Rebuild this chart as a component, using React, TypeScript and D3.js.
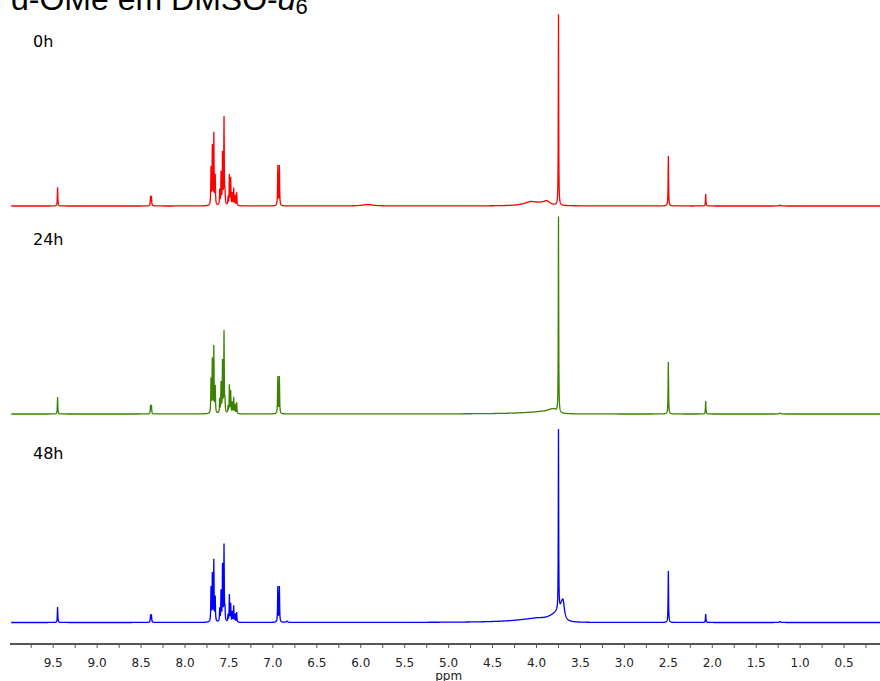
import React from 'react';
import * as d3 from 'd3';

// ---------- data ----------
// peak lists: [ppm, height, half-width toward higher ppm, half-width toward lower ppm]
type Peak = [number, number, number, number];

const traceNames = ['0h', '24h', '48h'];
const traceColors = ['#ff0000', '#3a8200', '#0000ff'];

const peaks0h: Peak[] = [
  [9.45, 18.7, 0.003, 0.003],
  [8.392, 9.5, 0.003, 0.003],
  [8.382, 9.5, 0.003, 0.003],
  [7.704, 37, 0.003, 0.003],
  [7.689, 58, 0.003, 0.003],
  [7.672, 71, 0.003, 0.003],
  [7.656, 29, 0.003, 0.003],
  [7.605, 15, 0.003, 0.003],
  [7.590, 32, 0.003, 0.003],
  [7.573, 51, 0.003, 0.003],
  [7.556, 87, 0.003, 0.003],
  [7.545, 12, 0.003, 0.003],
  [7.510, 8, 0.003, 0.003],
  [7.495, 30, 0.003, 0.003],
  [7.480, 27, 0.003, 0.003],
  [7.462, 12, 0.003, 0.003],
  [7.446, 17, 0.003, 0.003],
  [7.430, 10, 0.003, 0.003],
  [7.412, 13, 0.003, 0.003],
  [6.944, 40, 0.003, 0.003],
  [6.926, 40, 0.003, 0.003],
  [5.92, 1.5, 0.07, 0.07],
  [4.07, 3.0, 0.08, 0.08],
  [3.98, 1.5, 0.15, 0.1],
  [3.88, 4.0, 0.06, 0.04],
  [3.75, 191, 0.0025, 0.0025],
  [2.50, 50, 0.003, 0.003],
  [2.075, 12, 0.003, 0.003],
  [1.23, 0.8, 0.01, 0.01],
];

const peaks24h: Peak[] = [
  [9.45, 17, 0.003, 0.003],
  [8.392, 8.5, 0.003, 0.003],
  [8.382, 8.5, 0.003, 0.003],
  [7.704, 34, 0.003, 0.003],
  [7.689, 53, 0.003, 0.003],
  [7.672, 66, 0.003, 0.003],
  [7.656, 26, 0.003, 0.003],
  [7.605, 14, 0.003, 0.003],
  [7.590, 30, 0.003, 0.003],
  [7.573, 51, 0.003, 0.003],
  [7.556, 81, 0.003, 0.003],
  [7.545, 11, 0.003, 0.003],
  [7.510, 7, 0.003, 0.003],
  [7.495, 28, 0.003, 0.003],
  [7.480, 22, 0.003, 0.003],
  [7.462, 11, 0.003, 0.003],
  [7.446, 16, 0.003, 0.003],
  [7.430, 9, 0.003, 0.003],
  [7.412, 11, 0.003, 0.003],
  [6.944, 37, 0.003, 0.003],
  [6.926, 37, 0.003, 0.003],
  [3.85, 2.5, 0.3, 0.06],
  [3.80, 3.5, 0.06, 0.03],
  [3.75, 196, 0.0025, 0.0025],
  [2.50, 52, 0.003, 0.003],
  [2.075, 13, 0.003, 0.003],
  [1.23, 0.8, 0.01, 0.01],
];

const peaks48h: Peak[] = [
  [9.45, 15.5, 0.003, 0.003],
  [8.392, 7.5, 0.003, 0.003],
  [8.382, 7.5, 0.003, 0.003],
  [7.704, 34, 0.003, 0.003],
  [7.689, 47, 0.003, 0.003],
  [7.672, 61, 0.003, 0.003],
  [7.656, 24, 0.003, 0.003],
  [7.605, 13, 0.003, 0.003],
  [7.590, 30, 0.003, 0.003],
  [7.573, 56, 0.003, 0.003],
  [7.556, 76, 0.003, 0.003],
  [7.545, 11, 0.003, 0.003],
  [7.510, 7, 0.003, 0.003],
  [7.495, 27, 0.003, 0.003],
  [7.480, 18, 0.003, 0.003],
  [7.462, 10, 0.003, 0.003],
  [7.446, 16, 0.003, 0.003],
  [7.430, 8, 0.003, 0.003],
  [7.412, 10, 0.003, 0.003],
  [6.944, 35.5, 0.003, 0.003],
  [6.926, 35.5, 0.003, 0.003],
  [6.84, 1.2, 0.01, 0.01],
  [4.00, 3.0, 0.3, 0.1],
  [3.78, 6, 0.12, 0.03],
  [3.70, 22, 0.04, 0.02],
  [3.75, 181.5, 0.0025, 0.0025],
  [2.50, 51.5, 0.003, 0.003],
  [2.075, 8.5, 0.003, 0.003],
  [1.23, 0.8, 0.01, 0.01],
];

const tracePeaks = [peaks0h, peaks24h, peaks48h];
const traceBaselines = [206, 414, 622.5]; // page y of each spectrum's zero line
const labelBaselines = [47, 245, 459];

const majorTicks = [9.5, 9.0, 8.5, 8.0, 7.5, 7.0, 6.5, 6.0, 5.5, 5.0, 4.5, 4.0, 3.5, 3.0, 2.5, 2.0, 1.5, 1.0, 0.5];
const minorTicks = [9.75, 9.25, 8.75, 8.25, 7.75, 7.25, 6.75, 6.25, 5.75, 5.25, 4.75, 4.25, 3.75, 3.25, 2.75, 2.25, 1.75, 1.25, 0.75, 0.25];

const ppmDomain: [number, number] = [9.98, 0.08];

function intensityAt(ppm: number, peaks: Peak[]): number {
  let s = 0;
  for (const [c, h, wl, wr] of peaks) {
    const w = ppm >= c ? wl : wr;
    const d = (ppm - c) / w;
    s += h / (1 + d * d);
  }
  return s;
}

export default function App() {
  const W = 880;
  const H = 681;
  const x = d3.scaleLinear().domain(ppmDomain).range([11, 881]);

  const paths = tracePeaks.map((peaks, i) => {
    const grid = d3.range(ppmDomain[1], ppmDomain[0], 0.002);
    const pts = grid.concat(peaks.map((p) => p[0])).sort((a, b) => a - b);
    const y = d3
      .scaleLinear()
      .domain([0, 200])
      .range([traceBaselines[i], traceBaselines[i] - 200]);
    const line = d3
      .line<number>()
      .x((p) => x(p))
      .y((p) => y(intensityAt(p, peaks)));
    return line(pts) || '';
  });

  const axisY = 644;

  return (
    <svg
      width={W}
      height={H}
      style={{ position: 'absolute', left: 0, top: 0, background: '#fff' }}
    >
      <text
        x={11}
        y={9.5}
        fontFamily="'Liberation Sans', Arial, sans-serif"
        fontSize={32}
        fill="#000"
      >
        d-OMe em DMSO-
        <tspan fontStyle="italic">d</tspan>
        <tspan fontSize={22} dy={4}>6</tspan>
      </text>

      {paths.map((d, i) => (
        <path key={i} d={d} fill="none" stroke={traceColors[i]} strokeWidth={1.3} />
      ))}

      {traceNames.map((n, i) => (
        <text
          key={n}
          x={33}
          y={labelBaselines[i]}
          fontFamily="'DejaVu Sans', Verdana, sans-serif"
          fontSize={16}
          fill="#000"
        >
          {n}
        </text>
      ))}

      <line x1={10} x2={880} y1={axisY} y2={axisY} stroke="#555" strokeWidth={2} />
      {minorTicks.map((t) => (
        <line key={'m' + t} x1={x(t)} x2={x(t)} y1={axisY} y2={axisY + 4} stroke="#555" strokeWidth={1} />
      ))}
      {majorTicks.map((t) => (
        <g key={'M' + t}>
          <line x1={x(t)} x2={x(t)} y1={axisY} y2={axisY + 4} stroke="#555" strokeWidth={1} />
          <text
            x={x(t)}
            y={667}
            textAnchor="middle"
            fontFamily="'DejaVu Sans', Verdana, sans-serif"
            fontSize={12}
            fill="#222"
          >
            {t.toFixed(1)}
          </text>
        </g>
      ))}
      <text
        x={x(5.0)}
        y={680}
        textAnchor="middle"
        fontFamily="'DejaVu Sans', Verdana, sans-serif"
        fontSize={12}
        fill="#222"
      >
        ppm
      </text>
    </svg>
  );
}
